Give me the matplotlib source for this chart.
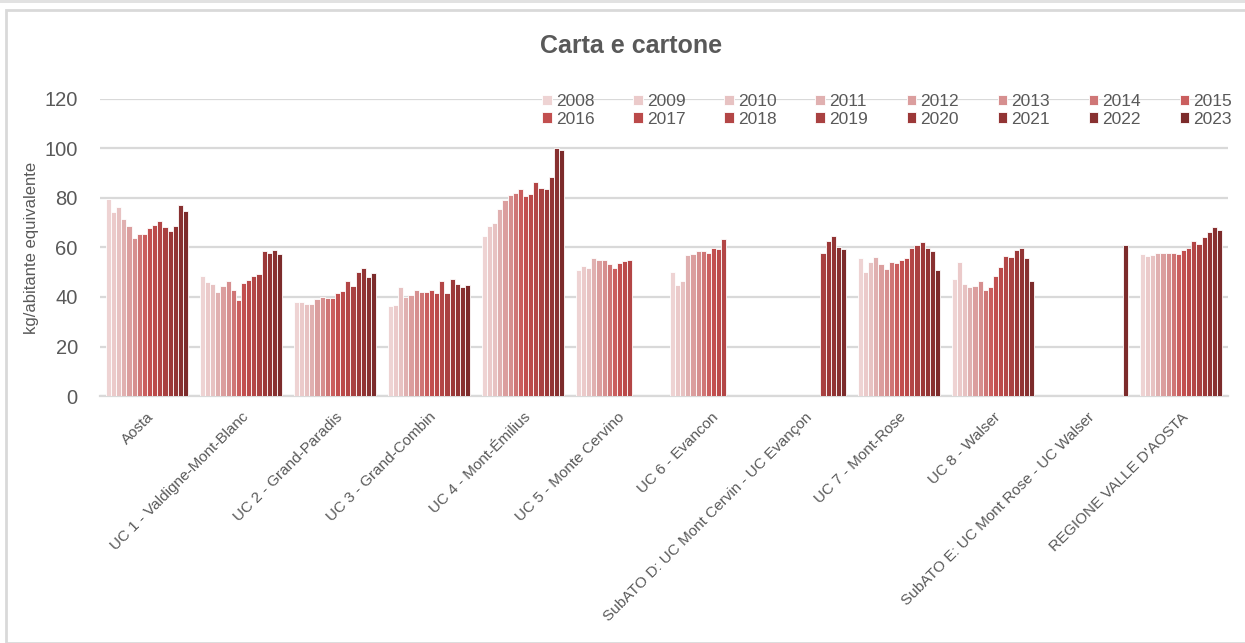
import numpy as np
import matplotlib
matplotlib.use("Agg")
import matplotlib.pyplot as plt
from matplotlib.patches import Rectangle

plt.rcParams['font.family'] = ['Liberation Sans Narrow', 'Liberation Sans', 'DejaVu Sans']

years = [str(y) for y in range(2008, 2024)]

categories = [
    "Aosta",
    "UC 1 - Valdigne-Mont-Blanc",
    "UC 2 - Grand-Paradis",
    "UC 3 - Grand-Combin",
    "UC 4 - Mont-Émilius",
    "UC 5 - Monte Cervino",
    "UC 6 - Evancon",
    "SubATO D: UC Mont Cervin - UC Evançon",
    "UC 7 - Mont-Rose",
    "UC 8 - Walser",
    "SubATO E: UC Mont Rose - UC Walser",
    "REGIONE VALLE D'AOSTA",
]

n = None  # no value for that year
aosta = [79.5, 74.5, 76.2, 71.5, 68.6, 63.7, 65.6, 65.6, 68.0, 69.0, 70.6, 68.1, 66.7, 68.6, 77.3, 74.9]
uc1 = [48.3, 45.9, 45.4, 42.0, 44.4, 46.3, 43.0, 38.6, 45.5, 46.7, 48.3, 49.3, 58.5, 57.9, 58.9, 57.5]
uc2 = [38.1, 38.1, 37.2, 37.2, 39.1, 40.1, 39.6, 39.6, 41.5, 42.6, 46.3, 44.4, 50.2, 51.7, 48.0, 49.8]
uc3 = [36.4, 36.9, 44.0, 40.1, 40.7, 43.0, 42.0, 42.0, 43.0, 41.5, 46.3, 41.5, 47.4, 45.4, 44.0, 45.0]
uc4 = [64.6, 68.6, 70.0, 75.4, 79.2, 81.1, 82.2, 83.5, 80.7, 81.6, 86.3, 83.9, 83.5, 88.4, 100.2, 99.4]
uc5 = [50.8, 52.7, 51.7, 55.6, 55.1, 55.1, 53.2, 51.7, 53.6, 54.7, 55.1, n, n, n, n, n]
uc6 = [50.2, 44.8, 46.3, 57.0, 57.5, 58.5, 58.5, 57.9, 59.9, 59.4, 63.3, n, n, n, n, n]
subato_d = [n, n, n, n, n, n, n, n, n, n, n, 57.9, 62.8, 64.6, 60.3, 59.4]
uc7 = [55.6, 50.2, 54.1, 56.0, 53.2, 51.2, 54.1, 53.6, 55.1, 55.6, 59.9, 60.9, 62.4, 59.9, 58.5, 50.8]
uc8 = [47.4, 54.1, 45.4, 44.0, 44.4, 46.3, 43.0, 44.0, 48.3, 52.3, 56.6, 56.0, 59.0, 59.9, 55.6, 46.3]
subato_e = [n, n, n, n, n, n, n, n, n, n, n, n, n, n, n, 60.9]
regione = [57.5, 56.6, 57.0, 57.9, 57.9, 57.9, 57.9, 57.5, 59.0, 59.9, 62.8, 61.4, 64.2, 66.1, 68.1, 67.2]

series_by_region = [aosta, uc1, uc2, uc3, uc4, uc5, uc6, subato_d, uc7, uc8, subato_e, regione]

colors = ["#EED3D3", "#EBCACA", "#E7C2C2", "#E0B0B0", "#DB9E9E", "#D68F8F",
          "#CF7676", "#CA5E5E", "#C24F4F", "#BB4A4A", "#B34646", "#A94141",
          "#9C3838", "#923434", "#883131", "#7C2B2B"]

grey = "#595959"
grid_c = "#D9D9D9"

fig = plt.figure(figsize=(12.45, 6.43), dpi=100)
W, H = 1245, 643

# outer chart frame
fig.patches.append(Rectangle((6 / W, 0), 1.2, 1 - 10 / H, transform=fig.transFigure,
                             fill=False, edgecolor=grid_c, linewidth=2))
fig.patches.append(Rectangle((0, 1 - 3 / H), 1, 3 / H, transform=fig.transFigure,
                             facecolor="#E2E2E2", edgecolor="none"))

ax = fig.add_axes([100 / W, 1 - 396 / H, 1128 / W, 297 / H])

x = np.arange(len(categories))
nyears = len(years)
group_w = 0.875
bw = group_w / nyears
handles = []
for j, yr in enumerate(years):
    vals = np.array([np.nan if r[j] is None else r[j] for r in series_by_region], dtype=float)
    offs = -group_w / 2 + bw * (j + 0.5)
    b = ax.bar(x + offs, vals, width=bw, color=colors[j], edgecolor="white",
               linewidth=0.6, label=yr, zorder=3)
    handles.append(b)

ax.set_xlim(-0.5, len(categories) - 0.5)
ax.set_ylim(0, 120)
ax.set_yticks(range(0, 121, 20))
ax.yaxis.grid(True, color=grid_c, linewidth=1.6, zorder=0)
ax.set_axisbelow(True)
for s in ["top", "right", "left"]:
    ax.spines[s].set_visible(False)
ax.spines["bottom"].set_color(grid_c)
ax.spines["bottom"].set_linewidth(1.6)
ax.tick_params(axis="both", length=0)
ax.tick_params(axis="y", labelsize=14.5, labelcolor=grey, pad=16)

ax.set_xticks(x)
ax.set_xticklabels(categories, rotation=45, ha="right", rotation_mode="anchor",
                   fontsize=11, color=grey)
ax.tick_params(axis="x", pad=10)
for lbl in ax.get_xticklabels():
    lbl.set_x(lbl.get_position()[0])

ax.set_ylabel("kg/abitante equivalente", fontsize=12, color=grey, labelpad=4)

fig.text(631 / W, 1 - 46 / H, "Carta e cartone", ha="center", va="center",
         fontsize=18, fontweight="bold", color=grey)

# legend fills row by row: 2008..2015 on top, 2016..2023 below
order = [i for c in range(8) for i in (c, c + 8)]
leg = ax.legend([handles[i] for i in order], [years[i] for i in order],
                loc="upper right", bbox_to_anchor=(1.01, 1.04), ncol=8,
                frameon=False, fontsize=12.5, handlelength=0.55, handleheight=0.55,
                handletextpad=0.25, columnspacing=2.22, labelspacing=0.15,
                borderaxespad=0)
for t in leg.get_texts():
    t.set_color(grey)

fig.savefig("out.png", dpi=100)
